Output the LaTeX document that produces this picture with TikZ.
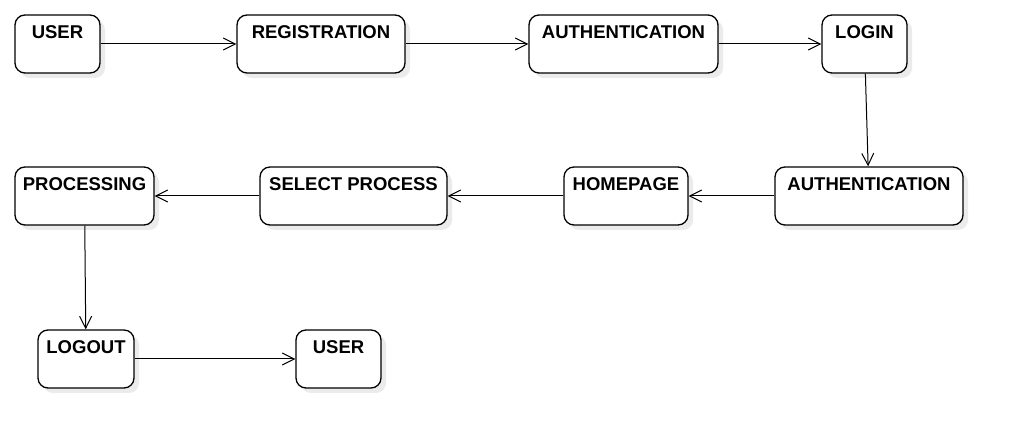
\documentclass[tikz,border=0pt]{standalone}
\usepackage{fontspec}
\setmainfont{Liberation Sans}
\usetikzlibrary{arrows.meta,shadows}
\begin{document}
\begin{tikzpicture}[x=1pt,y=1pt,
  state/.style={draw=black, line width=1.3pt, rounded corners=10pt, fill=white,
    minimum height=58pt, inner xsep=4pt, inner ysep=11pt,
    text height=13pt, text depth=23pt, align=center,
    font=\fontsize{18.5}{20}\selectfont\bfseries,
    drop shadow={shadow xshift=5pt, shadow yshift=-5pt, fill=black!8, opacity=1}},
  flow/.style={draw=black, line width=1pt, -{Straight Barb[length=12pt,width=12pt,line width=1pt]}}]
\useasboundingbox (0,0) rectangle (1022,447);
\fill[white] (0,0) rectangle (1022,447);
% top row (y = 447-44 = 403)
\node[state, minimum width=85pt]  (user1) at (57.5,403) {USER};
\node[state, minimum width=168pt] (reg)   at (321,403)  {REGISTRATION};
\node[state, minimum width=189pt] (auth1) at (623.5,403) {AUTHENTICATION};
\node[state, minimum width=85pt]  (login) at (864.5,403) {LOGIN};
% middle row (y = 447-196 = 251)
\node[state, minimum width=188pt] (auth2) at (869,251) {AUTHENTICATION};
\node[state, minimum width=124pt] (home)  at (626,251) {HOMEPAGE};
\node[state, minimum width=187pt] (select) at (353.5,251) {SELECT PROCESS};
\node[state, minimum width=139pt] (proc)  at (84.5,251) {PROCESSING};
% bottom row (y = 447-359 = 88)
\node[state, minimum width=96pt]  (logout) at (86,88) {LOGOUT};
\node[state, minimum width=85pt]  (user2)  at (338.5,88) {USER};
% connectors
\draw[flow] (user1) -- (reg);
\draw[flow] (reg) -- (auth1);
\draw[flow] (auth1) -- (login);
\draw[flow] (login) -- (auth2);
\draw[flow] (auth2) -- (home);
\draw[flow] (home) -- (select);
\draw[flow] (select) -- (proc);
\draw[flow] (proc) -- (logout);
\draw[flow] (logout) -- (user2);
\end{tikzpicture}
\end{document}
